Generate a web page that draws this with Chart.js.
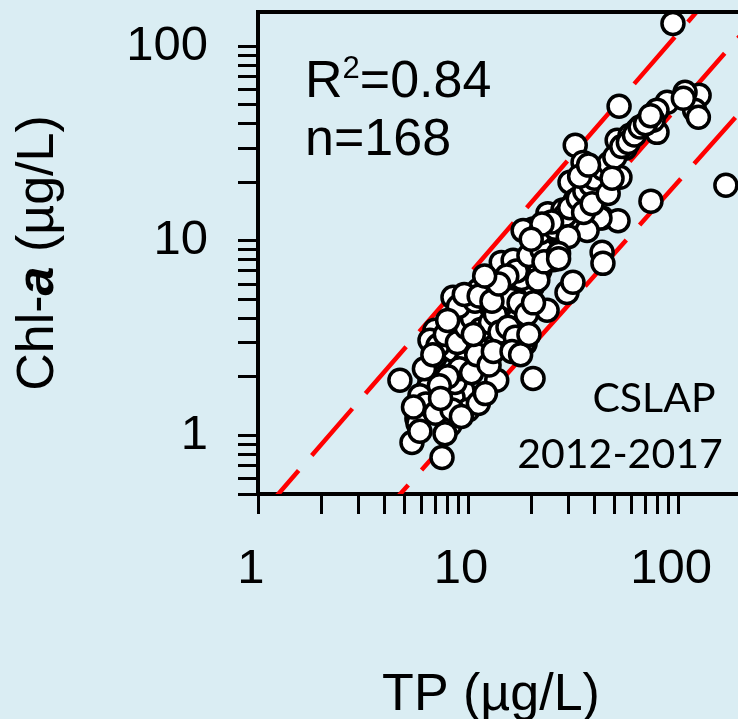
<!DOCTYPE html>
<html>
<head>
<meta charset="utf-8">
<script src="https://cdn.jsdelivr.net/npm/chart.js@4.4.0/dist/chart.umd.min.js"></script>
<style>
    html, body { margin: 0; padding: 0; background: #DAEDF3; overflow: hidden; }
    #grafico { display: block; }
</style>
</head>
<body>
<canvas id="grafico" width="738" height="719"></canvas>
<script>
// Datos: TP (µg/L) contra Chl-a (µg/L), 168 lagos
const tpValores = [
    94.6, 52.4, 126, 120, 125, 108, 88.7, 106, 79.4, 79.4,
    63.8, 56, 51.3, 59.1, 76, 169, 74.3, 32.4, 35.3, 41.6,
    45.9, 52.9, 30.6, 32.4, 24, 31.6, 43.5, 51.8, 28.3, 41.1,
    32.4, 42.5, 43.5, 36.9, 20.4, 18.3, 25.4, 14.4, 16.4, 19.7,
    22, 20.4, 29.6, 31.6, 8.48, 9.36, 11.8, 15, 17.1, 23.8,
    18.7, 12.3, 10.2, 8.2, 13.9, 16.4, 11.2, 6.96, 6.59, 6.96,
    8.48, 10.8, 9.68, 11.7, 4.74, 6.59, 6.45, 9.46, 8.48, 10,
    11.2, 13.7, 8.67, 6.1, 5.71, 5.78, 8.2, 7.77, 5.41, 7.52,
    20.4, 18.3, 12.1, 43.9,
    7.2, 7.8, 8.9, 9.8, 10.5, 11.5, 12.8, 13.5, 14.2, 9.1,
    8.0, 7.3, 10.4, 11.0, 12.6, 13.2, 9.0, 10.8, 12.4, 14.5,
    16.0, 17.5, 15.5, 16.8, 19.0, 20.5, 18.0, 21.5, 17.0, 15.3,
    19.5, 22.5, 22, 26.0, 27.5, 29.0, 30.5, 33.5, 36.0, 38.5,
    40.0, 44.0, 47.0, 50.0, 54.0, 58.0, 62.0, 66.0, 70.0, 74.0,
    35.5, 39.0, 30.0, 25.5, 25.0, 22.5, 34.0, 37.5, 46.5, 48.5,
    6.2, 6.8, 5.9, 6.3, 7.0, 8.4, 9.3, 7.4, 5.5, 5.9,
    8.0, 9.6, 11.3, 13.0, 14.0, 12.0, 10.6, 16.2, 17.8, 19.5,
    20.0, 23.0, 27.0, 27.0
];
const chlValores = [
    131, 49.2, 56, 46.9, 43.2, 58, 51.5, 54, 46.9, 36.1,
    37, 29.9, 32.9, 34.9, 41.7, 19.3, 16, 31, 25.3, 22.2,
    19.8, 21.2, 20, 16.1, 13.8, 12, 13.1, 12.7, 14.4, 23,
    12.3, 13.1, 8.73, 11.3, 11.5, 11.3, 8.73, 7.75, 7.94, 7.31,
    7.05, 5.9, 5.43, 6.12, 5.13, 4.4, 4.4, 4.55, 3.9, 4.4,
    2.97, 2.97, 3.19, 3.47, 5.57, 5.9, 5.57, 3.47, 3.08, 2.52,
    2.74, 3.0, 2.37, 2.49, 1.92, 1.92, 1.74, 1.70, 1.57, 1.35,
    1.46, 1.92, 1.87, 1.35, 1.22, 1.15, 1.13, 1.02, 0.92, 0.77,
    1.96, 2.97, 1.64, 7.66,
    2.9, 3.3, 3.0, 3.6, 4.0, 3.5, 3.8, 4.2, 3.4, 2.2,
    2.0, 1.8, 2.1, 2.6, 2.3, 2.7, 4.6, 4.9, 5.0, 5.2,
    5.0, 4.8, 3.6, 3.2, 4.2, 4.8, 6.4, 6.3, 7.0, 6.6,
    8.4, 9.0, 11.0, 11.6, 12.8, 13.5, 14.8, 16.5, 18.0, 19.5,
    21.0, 23.5, 25.0, 27.0, 30.5, 32.0, 35.0, 38.5, 40.0, 44.0,
    14.0, 15.5, 10.5, 8.0, 12.5, 12.2, 21.5, 24.5, 17.5, 21.0,
    2.2, 2.6, 1.6, 1.45, 1.3, 1.35, 1.25, 1.55, 1.4, 1.05,
    3.9, 5.3, 5.2, 4.9, 6.0, 6.6, 3.3, 2.7, 2.6, 3.3,
    10.2, 7.8, 8.6, 8.1
];

// Extremos de las tres rectas discontinuas (límites y ajuste)
const limitesTP = [1, 200];
const lineaSuperiorChl = [0.379, 276];
const lineaInferiorChl = [0.0755, 46.6];
const ajusteTP = [5.5, 200];
const ajusteChl = [1.38, 115];

// Marcas y etiquetas de los ejes
const ejeXTicks = [1, 2, 3, 4, 5, 6, 7, 8, 9, 10, 20, 30, 40, 50, 60, 70, 80, 90, 100];
const ejeXEtiquetas = [1, 10, 100];
const ejeYTicks = [0.5, 0.6, 0.7, 0.8, 0.9, 1, 2, 3, 4, 5, 6, 7, 8, 9, 10, 20, 30, 40, 50, 60, 70, 80, 90, 100];
const ejeYEtiquetas = [1, 10, 100];

const FONDO = '#DAEDF3';
const ROJO = '#FF0000';
const FUENTE = "'Liberation Sans', Arial, sans-serif";

function puntos(xs, ys) {
    return xs.map((x, i) => ({ x: x, y: ys[i] }));
}

function datasetLinea(xs, ys) {
    return {
        type: 'line',
        data: puntos(xs, ys),
        borderColor: ROJO,
        borderWidth: 4.5,
        borderDash: [62, 20],
        pointRadius: 0,
        fill: false,
        order: 2
    };
}

// Quita el relleno que Chart.js reserva para las etiquetas de los extremos
function sinRelleno(s) {
    s.paddingTop = 0;
    s.paddingBottom = 0;
    s.paddingLeft = 0;
    s.paddingRight = 0;
}

// Fondo, borde superior, títulos de ejes y anotaciones
const decoracion = {
    id: 'decoracion',
    beforeDraw(chart) {
        const ctx = chart.ctx;
        ctx.save();
        ctx.fillStyle = FONDO;
        ctx.fillRect(0, 0, chart.width, chart.height);
        ctx.restore();
    },
    afterDraw(chart) {
        const ctx = chart.ctx;
        const area = chart.chartArea;
        ctx.save();

        ctx.strokeStyle = '#000';
        ctx.lineWidth = 4;
        ctx.beginPath();
        ctx.moveTo(area.left - 2, area.top);
        ctx.lineTo(chart.width, area.top);
        ctx.stroke();

        ctx.fillStyle = '#000';
        ctx.textBaseline = 'alphabetic';

        // Título eje X
        ctx.font = '52px ' + FUENTE;
        ctx.textAlign = 'center';
        ctx.fillText('TP (µg/L)', 491, 710);

        // Título eje Y con la "a" en negrita cursiva
        const partes = [
            { t: 'Chl-', f: '52px ' + FUENTE },
            { t: 'a', f: 'italic bold 52px ' + FUENTE },
            { t: ' (µg/L)', f: '52px ' + FUENTE }
        ];
        let total = 0;
        partes.forEach(p => { ctx.font = p.f; p.w = ctx.measureText(p.t).width; total += p.w; });
        ctx.translate(53, (area.top + area.bottom) / 2);
        ctx.rotate(-Math.PI / 2);
        ctx.textAlign = 'left';
        let px = -total / 2;
        partes.forEach(p => { ctx.font = p.f; ctx.fillText(p.t, px, 0); px += p.w; });
        ctx.setTransform(1, 0, 0, 1, 0, 0);

        // R² y n
        ctx.textAlign = 'left';
        ctx.font = '52px ' + FUENTE;
        ctx.fillText('R', 305, 97);
        let x = 305 + ctx.measureText('R').width;
        ctx.font = '31px ' + FUENTE;
        ctx.fillText('2', x, 78);
        x += ctx.measureText('2').width;
        ctx.font = '52px ' + FUENTE;
        ctx.fillText('=0.84', x, 97);
        ctx.fillText('n=168', 305, 155);

        // Programa y periodo
        ctx.textAlign = 'center';
        ctx.font = "41px Lato, 'Open Sans', sans-serif";
        ctx.fillText('CSLAP', 654, 412);
        ctx.fillText('2012-2017', 620, 468);

        ctx.restore();
    }
};

const ctx = document.getElementById('grafico').getContext('2d');

new Chart(ctx, {
    type: 'scatter',
    data: {
        datasets: [
            {
                data: puntos(tpValores, chlValores),
                backgroundColor: '#FFFFFF',
                borderColor: '#000000',
                borderWidth: 3.5,
                pointRadius: 11,
                order: 1
            },
            datasetLinea(limitesTP, lineaSuperiorChl),
            datasetLinea(ajusteTP, ajusteChl),
            datasetLinea(limitesTP, lineaInferiorChl)
        ]
    },
    options: {
        responsive: false,
        animation: false,
        devicePixelRatio: 1,
        layout: { autoPadding: false, padding: { top: 12, right: 0, bottom: 0, left: 0 } },
        plugins: {
            legend: { display: false },
            tooltip: { enabled: false }
        },
        scales: {
            x: {
                type: 'logarithmic',
                min: 1,
                max: 193,
                afterBuildTicks: s => { s.ticks = ejeXTicks.map(v => ({ value: v })); },
                afterFit: s => { s.height = 225; sinRelleno(s); },
                ticks: {
                    autoSkip: false,
                    maxRotation: 0,
                    padding: 26,
                    labelOffset: -7,
                    color: '#000',
                    font: { family: FUENTE, size: 49 },
                    callback: v => ejeXEtiquetas.includes(v) ? String(v) : ''
                },
                grid: { drawOnChartArea: false, tickLength: 20, lineWidth: 3, color: '#000' },
                border: { width: 4, color: '#000' }
            },
            y: {
                type: 'logarithmic',
                min: 0.5,
                max: 150,
                afterBuildTicks: s => { s.ticks = ejeYTicks.map(v => ({ value: v })); },
                afterFit: s => { s.width = 258; sinRelleno(s); },
                ticks: {
                    autoSkip: false,
                    padding: 30,
                    color: '#000',
                    font: { family: FUENTE, size: 49 },
                    callback: v => ejeYEtiquetas.includes(v) ? String(v) : ''
                },
                grid: { drawOnChartArea: false, tickLength: 20, lineWidth: 3, color: '#000' },
                border: { width: 4, color: '#000' }
            }
        }
    },
    plugins: [decoracion]
});
</script>
</body>
</html>
